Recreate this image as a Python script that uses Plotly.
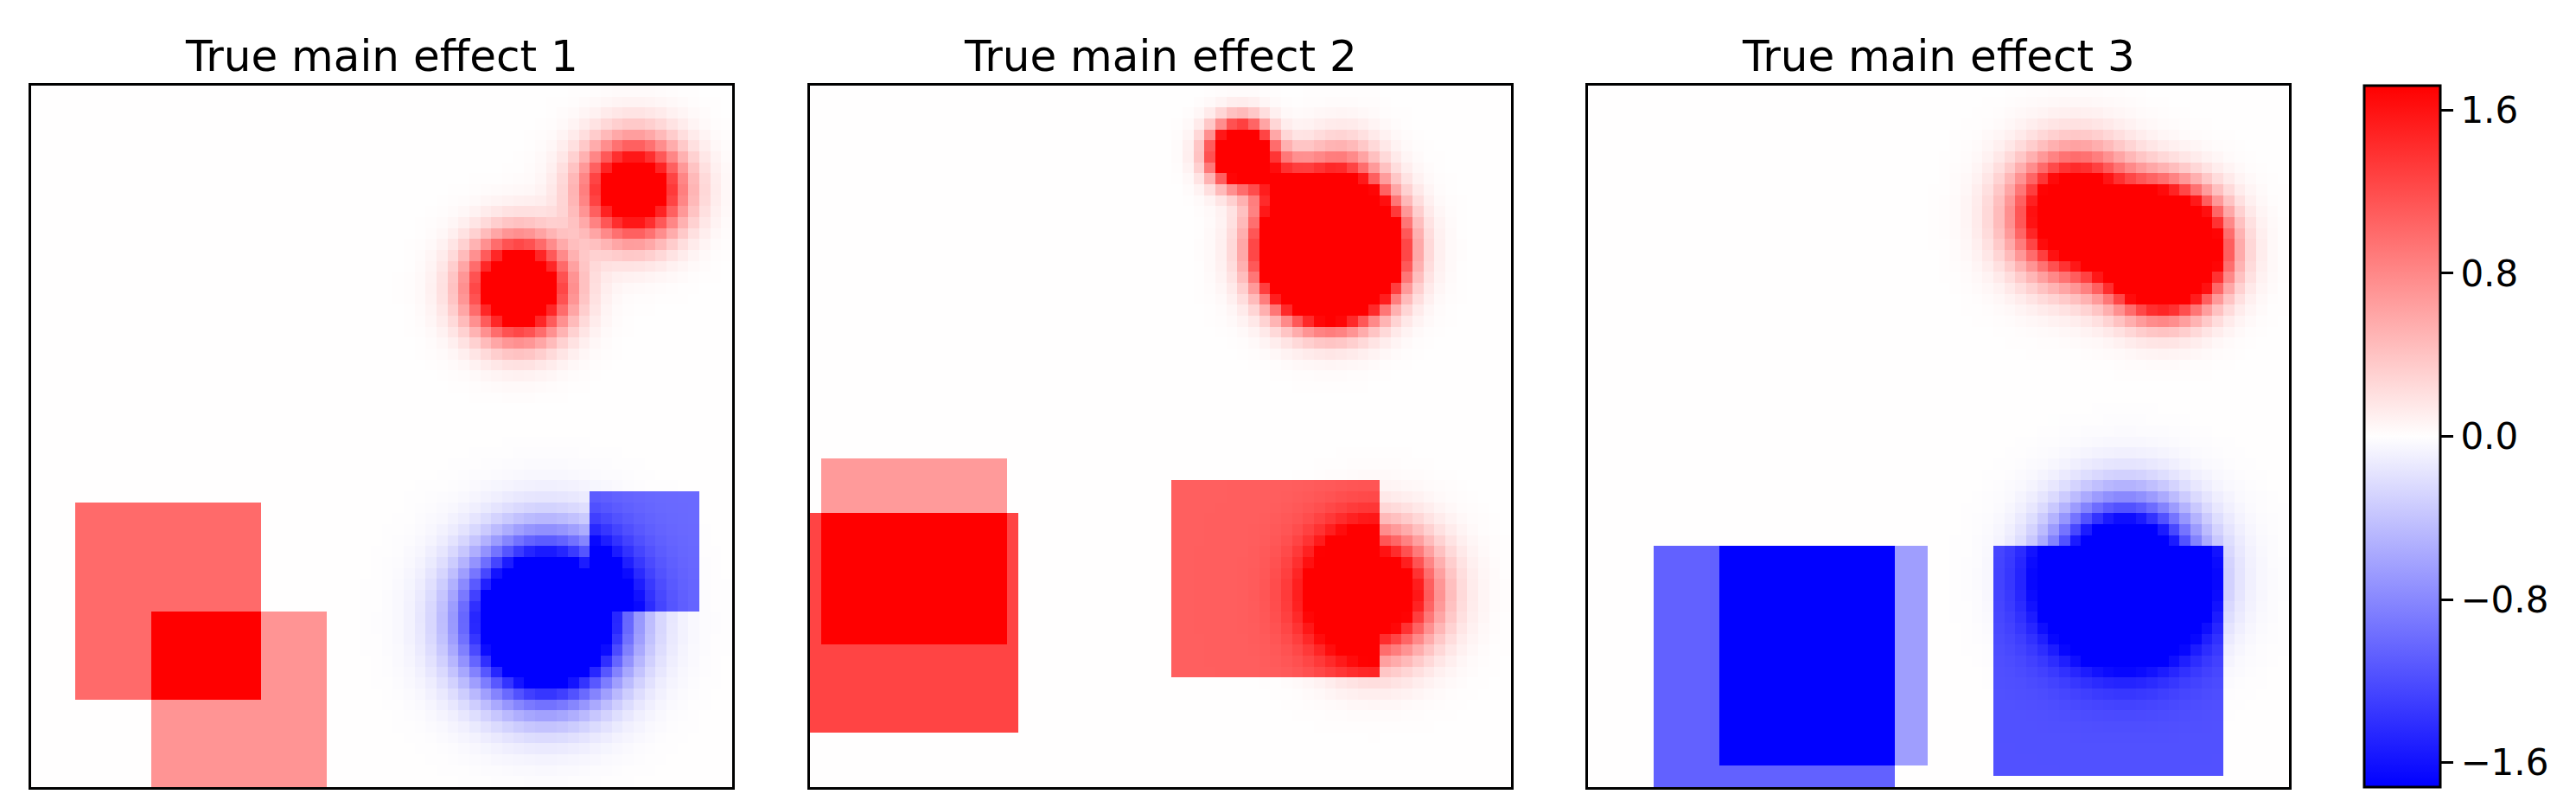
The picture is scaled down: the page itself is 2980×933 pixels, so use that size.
import numpy as np
import plotly.graph_objects as go

# grid of the true effect maps
grid_size = 64
vmax = 1.72

titles = ["True main effect 1", "True main effect 2", "True main effect 3"]

# constant blocks: (col_start, col_end, row_start, row_end, value)
rects_1 = [(4, 21, 38, 56, 1.00), (11, 27, 48, 64, 0.72), (51, 61, 37, 48, -1.00)]
rects_2 = [(1, 18, 34, 51, 0.68), (0, 19, 39, 59, 1.26), (33, 52, 36, 54, 1.08)]
rects_3 = [(6, 28, 42, 64, -1.06), (12, 31, 42, 62, -0.65), (37, 58, 42, 63, -1.17)]

# smooth bumps: (center_col, center_row, sigma, amplitude)
bumps_1 = [(55.0, 9.5, 3.02, 2.6), (44.5, 18.5, 3.0, 3.0), (47.0, 48.8, 4.47, -4.2)]
bumps_2 = [(39.3, 6.2, 1.76, 4.2), (47.5, 15.0, 3.16, 14.6), (43.0, 8.8, 1.8, 1.0),
           (48.5, 8.0, 2.5, 0.6), (51.5, 46.3, 3.6, 2.9)]
bumps_3 = [(52.5, 15.0, 3.16, 6.6), (44.5, 11.9, 3.6, 3.0), (49.0, 45.0, 4.24, -3.8)]

cbar_ticks = [-1.6, -0.8, 0.0, 0.8, 1.6]
cbar_labels = ["\u22121.6", "\u22120.8", "0.0", "0.8", "1.6"]


def build_field(rects, bumps):
    z = np.zeros((grid_size, grid_size))
    for c0, c1, r0, r1, v in rects:
        z[r0:r1, c0:c1] += v
    u = np.arange(grid_size) + 0.5
    cols, rows = np.meshgrid(u, u)
    for cx, cy, s, a in bumps:
        z += a * np.exp(-((cols - cx) ** 2 + (rows - cy) ** 2) / (2 * s * s))
    return z


fields = [build_field(rects_1, bumps_1), build_field(rects_2, bumps_2), build_field(rects_3, bumps_3)]

W, H = 2980, 933
panel_left = [28, 929, 1829]
panel_w = 811
top, bottom = 91, 902

bwr = [[0.0, "rgb(0,0,255)"], [0.5, "rgb(255,254,254)"], [1.0, "rgb(255,0,0)"]]

fig = go.Figure()
for i, z in enumerate(fields):
    n = "" if i == 0 else str(i + 1)
    fig.add_trace(go.Heatmap(
        z=z,
        x=list(range(grid_size)),
        y=list(range(grid_size)),
        coloraxis="coloraxis",
        xaxis="x" + n,
        yaxis="y" + n,
    ))
    ax = dict(
        domain=[panel_left[i] / W, (panel_left[i] + panel_w) / W],
        range=[-0.5, grid_size - 0.5],
        showticklabels=False, ticks="", showgrid=False, zeroline=False,
        showline=True, mirror=True, linecolor="black", linewidth=3,
        anchor="y" + n,
    )
    ay = dict(
        domain=[1 - bottom / H, 1 - top / H],
        range=[grid_size - 0.5, -0.5],
        showticklabels=False, ticks="", showgrid=False, zeroline=False,
        showline=True, mirror=True, linecolor="black", linewidth=3,
        anchor="x" + n,
    )
    fig.update_layout({"xaxis" + n: ax, "yaxis" + n: ay})
    fig.add_annotation(
        text=titles[i], xref="paper", yref="paper",
        x=(panel_left[i] + panel_w / 2) / W, y=1 - 88 / H,
        xanchor="center", yanchor="bottom", showarrow=False,
        font=dict(size=50, color="black", family="DejaVu Sans"),
    )

fig.update_layout(
    width=W, height=H,
    margin=dict(l=0, r=0, t=0, b=0),
    paper_bgcolor="white",
    plot_bgcolor="white",
    font=dict(family="DejaVu Sans", color="black"),
    showlegend=False,
    coloraxis=dict(
        colorscale=bwr, cmin=-vmax, cmax=vmax,
        colorbar=dict(
            x=2727 / W, xanchor="left", xpad=0,
            y=1 - (top + bottom) / 2 / H, yanchor="middle", ypad=0,
            len=bottom - top, lenmode="pixels",
            thickness=88, thicknessmode="pixels",
            outlinewidth=3, outlinecolor="black",
            tickvals=cbar_ticks, ticktext=cbar_labels,
            ticks="outside", ticklen=14, tickwidth=3, tickcolor="black",
            tickfont=dict(size=42, family="DejaVu Sans", color="black"),
        ),
    ),
)

fig.write_html("out.html")
